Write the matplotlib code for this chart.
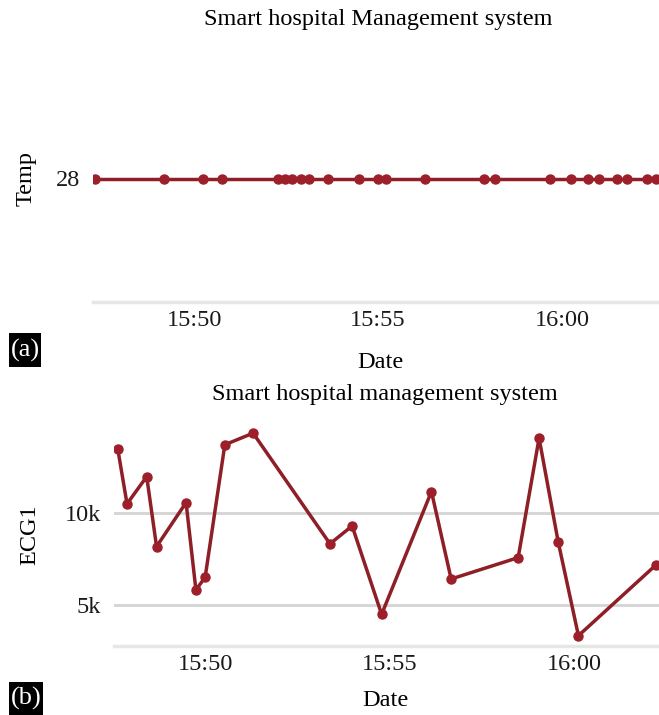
import matplotlib
matplotlib.use("Agg")
import matplotlib.pyplot as plt
import matplotlib.dates as mdates
from matplotlib.patches import Rectangle
from datetime import datetime

plt.rcParams['font.family'] = ['Liberation Serif', 'DejaVu Serif']

# ---- Data ----
temp_times = ["15:47:19", "15:49:11", "15:50:15", "15:50:46", "15:52:16", "15:52:28",
              "15:52:40", "15:52:54", "15:53:07", "15:53:39", "15:54:29", "15:54:59",
              "15:55:13", "15:56:17", "15:57:53", "15:58:10", "15:59:40", "16:00:15",
              "16:00:42", "16:01:00", "16:01:30", "16:01:46", "16:02:18", "16:02:33"]
temp_values = [28] * len(temp_times)

ecg_times = ["15:47:38", "15:47:53", "15:48:25", "15:48:41", "15:49:29", "15:49:45",
             "15:50:00", "15:50:32", "15:51:18", "15:53:23", "15:53:59", "15:54:47",
             "15:56:08", "15:56:40", "15:58:29", "15:59:03", "15:59:34", "16:00:07",
             "16:02:13"]
ecg_values = [13460, 10490, 11970, 8170, 10560, 5820, 6500, 13700, 14330, 8320,
              9290, 4490, 11160, 6410, 7570, 14060, 8440, 3330, 7170]

tick_times = ["15:50:00", "15:55:00", "16:00:00"]


def to_dt(s):
    return datetime.strptime("2020-01-01 " + s, "%Y-%m-%d %H:%M:%S")


temp_x = [to_dt(t) for t in temp_times]
ecg_x = [to_dt(t) for t in ecg_times]
ticks = [to_dt(t) for t in tick_times]

W, H = 659, 715
fig = plt.figure(figsize=(W / 100, H / 100), dpi=100)

line_c = '#8e1f27'
mark_c = '#9c1f2a'
fs = 17.5


def style(ax):
    for s in ['top', 'right', 'left']:
        ax.spines[s].set_visible(False)
    ax.spines['bottom'].set_color('#e6e6e6')
    ax.spines['bottom'].set_linewidth(2.5)
    ax.tick_params(length=0, labelsize=fs, labelcolor='#1a1a1a')
    ax.xaxis.set_major_formatter(mdates.DateFormatter('%H:%M'))
    ax.set_xticks(ticks)


def panel_tag(x0, y0, x1, y1, txt):
    fig.patches.append(Rectangle((x0 / W, 1 - y1 / H), (x1 - x0) / W, (y1 - y0) / H,
                                 transform=fig.transFigure, facecolor='black',
                                 edgecolor='none'))
    fig.text((x0 + x1) / 2 / W, 1 - (y0 + y1) / 2 / H, txt, ha='center', va='center',
             fontsize=19, color='white')


# ---- Top panel ----
ax1 = fig.add_axes([93 / W, 1 - 302 / H, 1 - 93 / W, (302 - 55) / H])
ax1.plot(temp_x, temp_values, color=line_c, lw=2.5, marker='o', ms=6.5,
         mfc=mark_c, mec=mark_c)
ax1.set_xlim(to_dt("15:47:15"), to_dt("16:02:38"))
ax1.set_ylim(27, 29)
ax1.set_yticks([28])
style(ax1)
ax1.tick_params(axis='x', pad=6)
ax1.tick_params(axis='y', pad=9)

fig.text(378 / W, 1 - 20 / H, "Smart hospital Management system", ha='center', va='center', fontsize=fs)
fig.text(26 / W, 1 - 178 / H, "Temp", rotation=90, ha='center', va='center', fontsize=fs)
fig.text(380 / W, 1 - 362 / H, "Date", ha='center', va='center', fontsize=fs)
panel_tag(9, 333, 41, 367, "(a)")

# ---- Bottom panel ----
ax2 = fig.add_axes([113.5 / W, 1 - 646 / H, 1 - 113.5 / W, (646 - 421) / H])
ax2.plot(ecg_x, ecg_values, color=line_c, lw=2.5, marker='o', ms=6.5,
         mfc=mark_c, mec=mark_c)
ax2.set_xlim(to_dt("15:47:31"), to_dt("16:02:18"))
ax2.set_ylim(2770, 14990)
ax2.set_yticks([5000, 10000])
ax2.set_yticklabels(["5k", "10k"])
ax2.grid(axis='y', color='#d4d4d4', lw=2)
ax2.set_axisbelow(True)
style(ax2)
ax2.tick_params(axis='x', pad=6)
ax2.tick_params(axis='y', pad=9)

fig.text(385 / W, 1 - 395 / H, "Smart hospital management system", ha='center', va='center', fontsize=fs)
fig.text(30 / W, 1 - 535 / H, "ECG1", rotation=90, ha='center', va='center', fontsize=fs)
fig.text(385 / W, 1 - 700 / H, "Date", ha='center', va='center', fontsize=fs)
panel_tag(9, 682, 43, 715, "(b)")

fig.savefig("out.png", dpi=100)
